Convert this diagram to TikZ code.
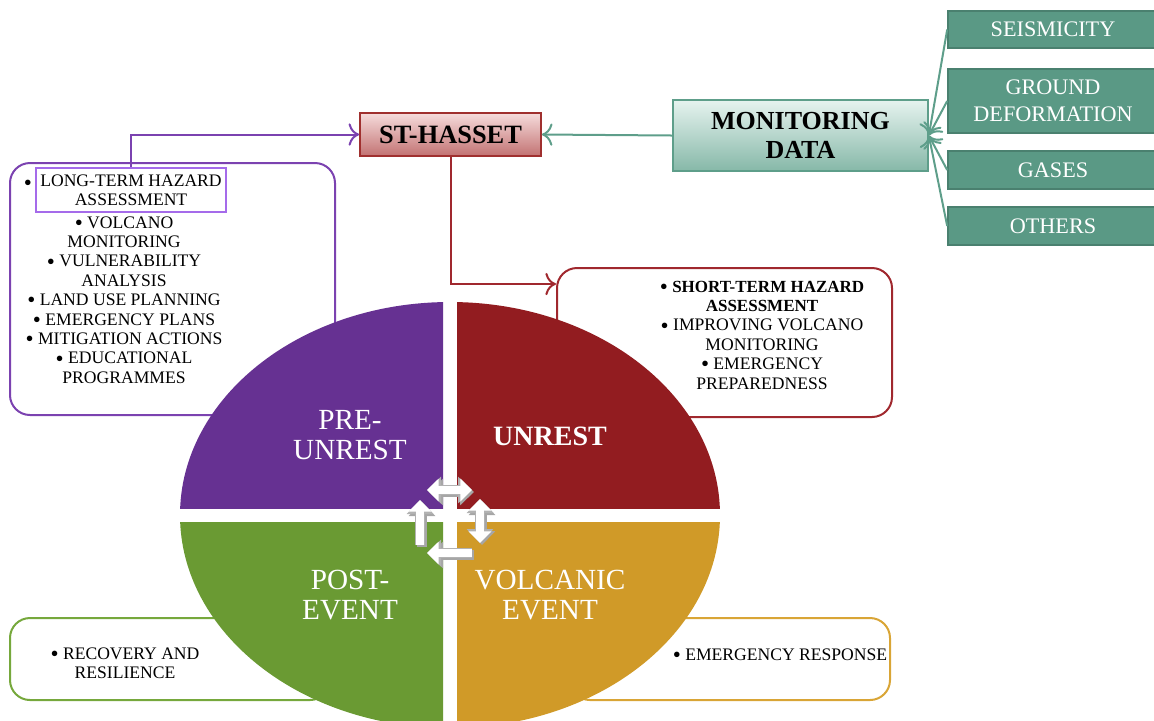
\documentclass[tikz,border=0pt]{standalone}
\usepackage{fontspec}
\setmainfont{Liberation Serif}
\usetikzlibrary{arrows.meta}
\definecolor{prepurple}{HTML}{663192}
\definecolor{unred}{HTML}{921C20}
\definecolor{postgreen}{HTML}{6A9A33}
\definecolor{evgold}{HTML}{D09A28}
\definecolor{preline}{HTML}{7B42B0}
\definecolor{ltline}{HTML}{A56BEA}
\definecolor{unline}{HTML}{A0282E}
\definecolor{postline}{HTML}{76A83C}
\definecolor{evline}{HTML}{D9A536}
\definecolor{stline}{HTML}{A0302F}
\definecolor{stlight}{HTML}{F6DCDC}
\definecolor{stdark}{HTML}{C27272}
\definecolor{mdline}{HTML}{5E9E8A}
\definecolor{mdlight}{HTML}{E6F3EF}
\definecolor{mddark}{HTML}{86B8A8}
\definecolor{tealfill}{HTML}{5A9985}
\definecolor{tealdark}{HTML}{4A806F}
\newcommand{\bul}{\smash{\raisebox{-1.1pt}{\fontsize{11.5}{9.7}\selectfont•}}\ }
\begin{document}
\begin{tikzpicture}[x=0.5pt,y=-0.5pt,>={To[scale=1.4]},
  listbox/.style={draw,line width=1pt,rounded corners=10pt,fill=white},
  listtxt/.style={align=center,font=\fontsize{8.8}{9.7}\selectfont,inner sep=0pt},
  datbox/.style={draw=tealdark,fill=tealfill,text=white,line width=0.8pt,minimum width=105pt,font=\fontsize{11.1}{13.5}\selectfont,align=center},
  quadtxt/.style={text=white,align=center,font=\fontsize{14.6}{15}\selectfont}]
\useasboundingbox (0,0) rectangle (1154,720);
\clip (0,0) rectangle (1154,720);
% boxes behind the ellipse
\node[listbox,draw=preline,minimum width=162.5pt,minimum height=126pt] (prebox) at (172.5,289) {};
\node[listbox,draw=unline,minimum width=167.5pt,minimum height=74.5pt] (unbox) at (724.5,342.5) {};
\node[listbox,draw=postline,minimum width=160pt,minimum height=41pt] (postbox) at (170,659) {};
\node[listbox,draw=evline,minimum width=160pt,minimum height=41pt] (evbox) at (730,659) {};
% the four phases
\foreach \c/\xa/\ya/\xb/\yb in {prepurple/0/0/443/508,unred/457/0/1154/508,postgreen/0/522/443/720,evgold/457/522/1154/720}{
  \begin{scope}
  \clip (\xa,\ya) rectangle (\xb,\yb);
  \fill[\c] (450,515) ellipse [x radius=270,y radius=213];
  \end{scope}}
\node[quadtxt] (prel) at (350,435) {PRE-\\UNREST};
\node[quadtxt,font=\bfseries\fontsize{14}{15}\selectfont] (unl) at (550,436) {UNREST};
\node[quadtxt] (postl) at (350,595) {POST-\\EVENT};
\node[quadtxt] (evl) at (550,595) {VOLCANIC\\EVENT};
% cycle arrows
\foreach \col/\sh/\w/\tw/\tl in {black!35/2/5/13/7,gray!60/0/5/13/7,white/0/3.6/11/5.8}{
  \begin{scope}[shift={(\sh,\sh)},color=\col,line width=\w pt,>={Triangle[width=\tw pt,length=\tl pt]}]
  \draw[<->] (427,490) -- (472,490);
  \draw[<->] (480,499) -- (480,543);
  \draw[->] (420,545) -- (420,500);
  \draw[->] (472,553) -- (427,553);
  \end{scope}}
% lists
\node[draw=ltline,line width=1.3pt,minimum width=95pt,minimum height=22pt,listtxt] (lt) at (131,190) {LONG-TERM HAZARD\\ASSESSMENT};
\node[listtxt] (ltb) at (28,185) {\raisebox{-1.1pt}{\fontsize{11.5}{9.7}\selectfont•}};
\node[listtxt] (prelist) at (124,300) {\bul VOLCANO\\MONITORING\\\bul VULNERABILITY\\ANALYSIS\\\bul LAND USE PLANNING\\\bul EMERGENCY PLANS\\\bul MITIGATION ACTIONS\\\bul EDUCATIONAL\\PROGRAMMES};
\node[listtxt] (unlist) at (762,335) {\bul{\bfseries\fontsize{8.5}{9.7}\selectfont SHORT-TERM HAZARD}\\{\bfseries\fontsize{8.5}{9.7}\selectfont ASSESSMENT}\\\bul IMPROVING VOLCANO\\MONITORING\\\bul EMERGENCY\\PREPAREDNESS};
\node[listtxt] (postlist) at (125,663) {\bul RECOVERY AND\\RESILIENCE};
\node[listtxt] (evlist) at (780,655) {\bul EMERGENCY RESPONSE};
% tool and data
\node[draw=stline,line width=0.8pt,top color=stlight,bottom color=stdark,minimum width=90.5pt,minimum height=21.5pt,font=\bfseries\fontsize{13.2}{15}\selectfont] (st) at (450.5,134.5) {ST-HASSET};
\node[draw=mdline,line width=0.8pt,top color=mdlight,bottom color=mddark,minimum width=127.5pt,minimum height=35.5pt,align=center,font=\bfseries\fontsize{13}{14.5}\selectfont] (md) at (800.5,135.5) {MONITORING\\DATA};
\node[datbox,minimum height=18.5pt] (seis) at (1053,29.5) {SEISMICITY};
\node[datbox,minimum height=32pt] (ground) at (1053,101) {GROUND\\DEFORMATION};
\node[datbox,minimum height=19pt] (gases) at (1053,170) {GASES};
\node[datbox,minimum height=19pt] (others) at (1053,226) {OTHERS};
\coordinate (unin) at (556,284);
% connectors
\draw[->,line width=1pt,preline] (lt.north) |- (st.west);
\draw[->,line width=1pt,unline] (st.south) |- (unin);
\draw[->,line width=1pt,mdline] (md.west) -- (st.east);
\foreach \n in {seis,ground,gases,others}
  \draw[->,line width=1pt,mdline] (\n.west) -- (md.east);
\end{tikzpicture}
\end{document}
